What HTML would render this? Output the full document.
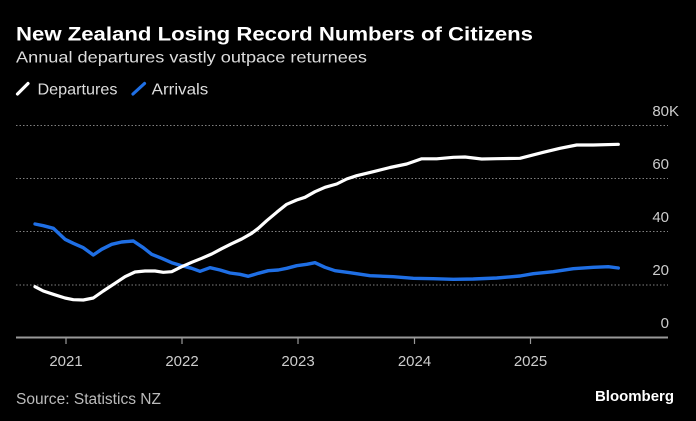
<!DOCTYPE html>
<html><head><meta charset="utf-8"><style>
html,body{margin:0;padding:0;background:#000;}
svg{display:block;}
text{font-family:"Liberation Sans",sans-serif;}
</style></head><body>
<svg width="696" height="421" viewBox="0 0 696 421" xmlns="http://www.w3.org/2000/svg">
<rect width="696" height="421" fill="#000"/>
<text x="16" y="40.5" font-size="19" font-weight="bold" fill="#fff" textLength="517" lengthAdjust="spacingAndGlyphs">New Zealand Losing Record Numbers of Citizens</text>
<text x="16" y="62.5" font-size="16" fill="#ddd" textLength="351" lengthAdjust="spacingAndGlyphs">Annual departures vastly outpace returnees</text>
<line x1="17.5" y1="94" x2="28" y2="83.5" stroke="#fff" stroke-width="3.2" stroke-linecap="round"/>
<text x="37.5" y="94.3" font-size="16" fill="#ddd" textLength="80" lengthAdjust="spacingAndGlyphs">Departures</text>
<line x1="133" y1="94" x2="144.5" y2="83.5" stroke="#1f6fe5" stroke-width="3.2" stroke-linecap="round"/>
<text x="151.7" y="94.3" font-size="16" fill="#ddd" textLength="56.6" lengthAdjust="spacingAndGlyphs">Arrivals</text>
<g stroke="#808080" stroke-width="1" stroke-dasharray="1.5 2">
<line x1="16" y1="125.5" x2="668" y2="125.5"/>
<line x1="16" y1="178.5" x2="668" y2="178.5"/>
<line x1="16" y1="231.5" x2="668" y2="231.5"/>
<line x1="16" y1="285" x2="668" y2="285"/>
</g>
<g font-size="15" fill="#ccc" text-anchor="end">
<text x="669" y="116">80</text>
<text x="669" y="169">60</text>
<text x="669" y="222">40</text>
<text x="669" y="275">20</text>
<text x="669" y="328">0</text>
</g>
<text x="669" y="116" font-size="15" fill="#ccc">K</text>
<line x1="16" y1="337.5" x2="668" y2="337.5" stroke="#999" stroke-width="2"/>
<g stroke="#999" stroke-width="1.2">
<line x1="66" y1="337" x2="66" y2="344"/>
<line x1="182" y1="337" x2="182" y2="344"/>
<line x1="298" y1="337" x2="298" y2="344"/>
<line x1="414.5" y1="337" x2="414.5" y2="344"/>
<line x1="530.5" y1="337" x2="530.5" y2="344"/>
</g>
<g font-size="15" fill="#ccc" text-anchor="middle">
<text x="66" y="366">2021</text>
<text x="182" y="366">2022</text>
<text x="298" y="366">2023</text>
<text x="414.5" y="366">2024</text>
<text x="530.5" y="366">2025</text>
</g>
<polyline fill="none" stroke="#1f6fe5" stroke-width="3.4" stroke-linejoin="round" stroke-linecap="round" points="35,224 43.3,225.7 53.3,228.3 65,239.3 73.3,243.3 83.3,247.7 93.3,255 101.7,249.3 111.7,244.3 121.7,242 133.3,241 143.3,247.7 151.7,254.3 161.7,258.3 171.7,262.7 181.7,265.7 191.7,268.3 200,271.3 210,267.7 220,270 230,273 240,274.3 248.3,276.3 258.3,273.3 268.3,270.7 278.3,270 286.7,268.3 296.7,265.7 306.7,264.3 315,262.7 325,267.3 335,270.7 350,272.7 370,275.7 393.3,276.7 413.3,278.3 433.3,278.7 453.3,279.3 473.3,279 496.7,278 520,276 533.3,273.7 553.3,271.7 573.3,268.7 593.3,267.3 608.3,266.7 618.3,268"/>
<polyline fill="none" stroke="#fff" stroke-width="3.2" stroke-linejoin="round" stroke-linecap="round" points="35,286.7 43.3,291 53.3,294.3 65,298 73.3,299.7 83.3,300 93.3,298 103.3,291 115,283.3 125,276.7 135,272 145,271 155,271 163.3,272.3 171.7,271.7 181.7,266.7 191.7,262.3 201.7,258.3 211.7,254 221.7,248.7 231.7,243.7 241.7,239 251.7,233.3 258.3,228.3 266.7,220.7 276.7,212.3 286.7,204.3 296.7,200 305,197.3 315,191.7 325,187.3 336.7,184 346.7,179 356.7,175.7 373.3,171.7 390,167.5 406.7,164 421.7,158.8 436.7,158.8 453.3,157.3 465,157 481.7,159 496.7,158.7 520,158.3 543.3,152.3 560,148.3 576.7,145 593.3,145 618.3,144.3"/>
<text x="16" y="404" font-size="15.5" fill="#bbb" textLength="145" lengthAdjust="spacingAndGlyphs">Source: Statistics NZ</text>
<text x="595" y="401" font-size="15" font-weight="bold" fill="#fff" textLength="79" lengthAdjust="spacingAndGlyphs">Bloomberg</text>
</svg>
</body></html>
